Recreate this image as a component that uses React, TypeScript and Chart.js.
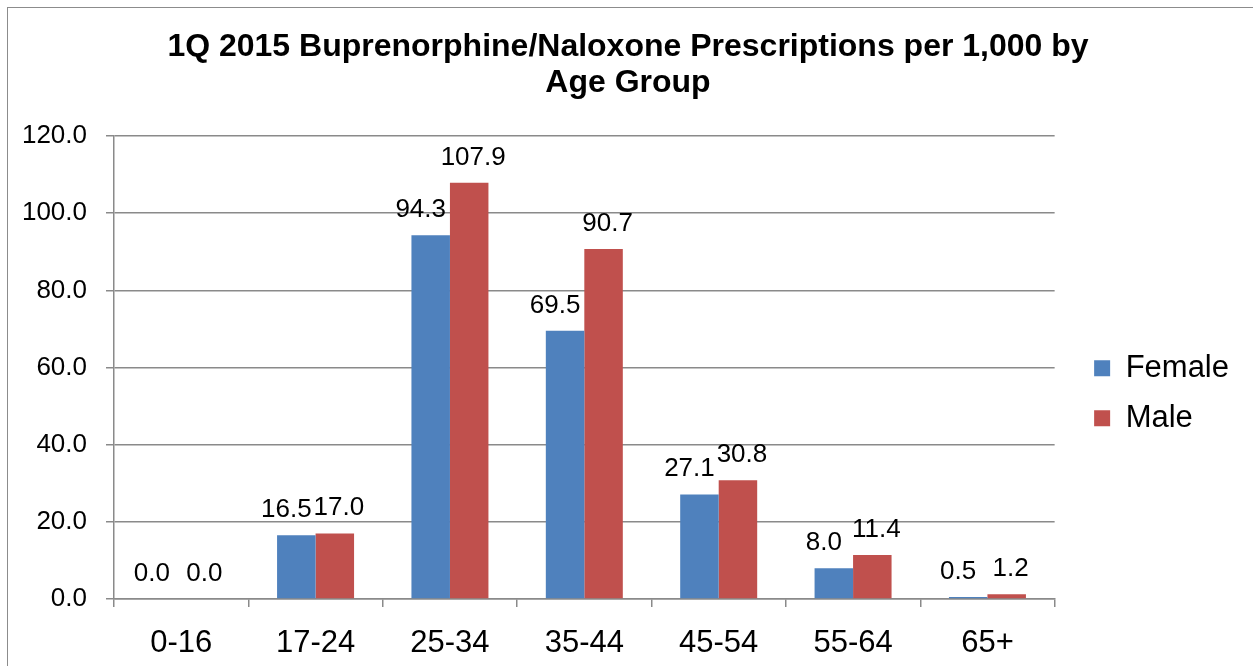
import React, { useEffect, useRef } from "react";
import { Chart, registerables } from "chart.js";

Chart.register(...registerables);

const categories = ["0-16", "17-24", "25-34", "35-44", "45-54", "55-64", "65+"];
const femaleValues = [0.0, 16.5, 94.3, 69.5, 27.1, 8.0, 0.5];
const maleValues = [0.0, 17.0, 107.9, 90.7, 30.8, 11.4, 1.2];
const titleLines = ["1Q 2015 Buprenorphine/Naloxone Prescriptions per 1,000 by", "Age Group"];
const yMin = 0;
const yMax = 120;
const yStep = 20;

const FONT = "'Liberation Sans', Arial, Helvetica, sans-serif";
const GRID = "#8a8a8a";

const dataLabelPlugin = {
  id: "dataLabels",
  afterDatasetsDraw(chart: any) {
    const ctx = chart.ctx;
    ctx.save();
    ctx.font = `26px ${FONT}`;
    ctx.fillStyle = "#000";
    ctx.textAlign = "center";
    ctx.textBaseline = "alphabetic";
    chart.data.datasets.forEach((ds: any, di: number) => {
      const meta = chart.getDatasetMeta(di);
      const shift = ds.labelShift || 0;
      meta.data.forEach((bar: any, i: number) => {
        const v = ds.data[i];
        ctx.fillText(Number(v).toFixed(1), bar.x + shift, bar.y - 18);
      });
    });
    ctx.restore();
  },
};

export default function App() {
  const canvasRef = useRef<HTMLCanvasElement | null>(null);

  useEffect(() => {
    if (!canvasRef.current) return;
    const chart = new Chart(canvasRef.current, {
      type: "bar",
      data: {
        labels: categories,
        datasets: [
          {
            label: "Female",
            data: femaleValues,
            backgroundColor: "#4F81BD",
            borderWidth: 0,
            barPercentage: 1,
            categoryPercentage: 0.573,
            labelShift: -10,
          } as any,
          {
            label: "Male",
            data: maleValues,
            backgroundColor: "#C0504D",
            borderWidth: 0,
            barPercentage: 1,
            categoryPercentage: 0.573,
            labelShift: 4,
          } as any,
        ],
      },
      options: {
        animation: false,
        responsive: true,
        maintainAspectRatio: false,
        layout: { padding: { left: 9, right: 20, top: 0, bottom: 0 } },
        font: { family: FONT },
        scales: {
          x: {
            grid: {
              display: true,
              drawOnChartArea: false,
              drawTicks: true,
              tickLength: 8,
              color: GRID,
              lineWidth: 1.5,
              offset: true,
            },
            border: { display: true, color: GRID, width: 1.5 },
            ticks: {
              color: "#000",
              font: { family: FONT, size: 31 },
              padding: 18,
              maxRotation: 0,
            },
            afterFit: (scale: any) => {
              scale.height = 67;
            },
          } as any,
          y: {
            min: yMin,
            max: yMax,
            grid: { color: GRID, lineWidth: 1.5, tickLength: 8 },
            border: { display: true, color: GRID, width: 1.5 },
            ticks: {
              stepSize: yStep,
              color: "#000",
              font: { family: FONT, size: 26 },
              padding: 19,
              callback: (v: any) => Number(v).toFixed(1),
            },
            afterFit: (scale: any) => {
              scale.width = 97;
            },
          } as any,
          gap: {
            type: "linear",
            position: "right",
            display: true,
            grid: { display: false },
            border: { display: false },
            ticks: { display: false },
            afterFit: (scale: any) => {
              scale.width = 20.5;
            },
          } as any,
        },
        plugins: {
          title: {
            display: true,
            text: titleLines,
            color: "#000",
            font: { family: FONT, size: 32, weight: "bold", lineHeight: 36 / 32 },
            padding: { top: 21, bottom: 35 },
          },
          legend: {
            display: true,
            position: "right",
            align: "center",
            fullSize: false,
            title: { display: true, text: "", padding: 18.6, font: { size: 12 } },
            labels: {
              boxWidth: 16,
              boxHeight: 16,
              padding: 19,
              color: "#000",
              font: { family: FONT, size: 31 },
            },
          },
          tooltip: { enabled: false },
        },
      },
      plugins: [dataLabelPlugin],
    });
    return () => chart.destroy();
  }, []);

  return (
    <div
      style={{
        position: "fixed",
        left: 7,
        top: 7,
        width: 1300,
        height: 700,
        border: "1px solid #8c8c8c",
        background: "#fff",
      }}
    >
      <div style={{ position: "absolute", left: 0, top: 0, width: 1251, height: 658 }}>
        <canvas ref={canvasRef} />
      </div>
    </div>
  );
}
